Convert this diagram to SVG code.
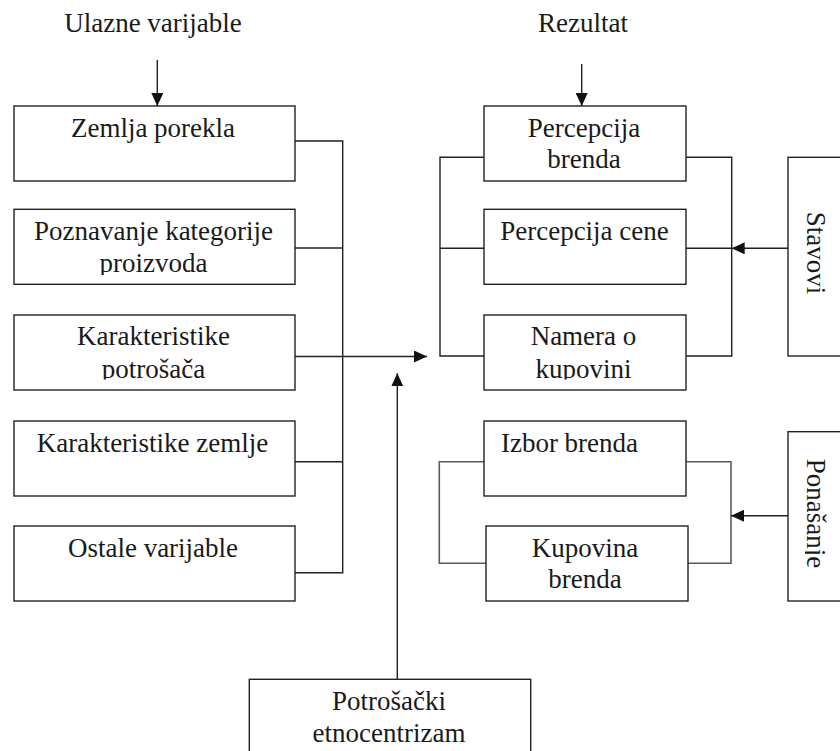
<svg xmlns="http://www.w3.org/2000/svg" width="840" height="751" viewBox="0 0 840 751">
<style>
  .box { fill: #ffffff; stroke: #222222; stroke-width: 1.4; }
  .t { font-family: 'Liberation Serif', Tinos, 'Times New Roman', Times, 'DejaVu Serif', serif; font-size: 27px; fill: #1a1a1a; text-anchor: middle; }
  .ln { fill: none; stroke: #222222; stroke-width: 1.4; }
  .gl { fill: none; stroke: #5a5a5a; stroke-width: 1.6; }
</style>
<defs>
  <marker id="ah" markerUnits="userSpaceOnUse" markerWidth="13" markerHeight="12" refX="13" refY="6" orient="auto">
    <path d="M0,0 L13,6 L0,12 Z" fill="#111111"/>
  </marker>
  <clipPath id="c2"><rect x="14" y="209" width="281" height="66"/></clipPath>
  <clipPath id="c3"><rect x="14" y="315" width="281" height="64.5"/></clipPath>
  <clipPath id="c8"><rect x="484" y="315" width="202" height="64.5"/></clipPath>
  <clipPath id="cp"><rect x="805" y="431" width="40" height="170"/></clipPath>
</defs>
<rect width="840" height="751" fill="#ffffff"/>

<g id="title-left"><text class="t" x="153" y="32">Ulazne varijable</text></g>
<g id="title-right"><text class="t" x="583" y="32">Rezultat</text></g>

<g id="connectors">
  <path class="ln" d="M157.3,60 V106" marker-end="url(#ah)"/>
  <path class="ln" d="M581.7,64 V106" marker-end="url(#ah)"/>
  <path class="ln" d="M295,141 H342.7 V572.7 H293"/>
  <path class="ln" d="M295,248 H342.7"/>
  <path class="ln" d="M295,461.7 H342.7"/>
  <path class="ln" d="M295,356.5 H427" marker-end="url(#ah)"/>
  <path class="ln" d="M397.3,679 V373.3" marker-end="url(#ah)"/>
  <path class="ln" d="M484,157.3 H440 V356 H484"/>
  <path class="ln" d="M484,248.3 H440"/>
  <path class="ln" d="M686,157.3 H731.7 V356 H686"/>
  <path class="ln" d="M686,248.3 H731.7"/>
  <path class="ln" d="M788,248.3 H731.7" marker-end="url(#ah)"/>
  <path class="gl" d="M484,461.7 H439.3 V563.3 H486"/>
  <path class="gl" d="M686,461.7 H731 V563.3 H688"/>
  <path class="ln" d="M788,515.7 H731" marker-end="url(#ah)"/>
</g>

<g id="zemlja-porekla">
  <rect class="box" x="14" y="106" width="281" height="75"/>
  <text class="t" x="153" y="136.7">Zemlja porekla</text>
</g>
<g id="poznavanje-kategorije">
  <rect class="box" x="14" y="209.3" width="281" height="75"/>
  <g clip-path="url(#c2)">
    <text class="t" x="153.5" y="240">Poznavanje kategorije</text>
    <text class="t" x="153.5" y="271.7">proizvoda</text>
  </g>
</g>
<g id="karakteristike-potrosaca">
  <rect class="box" x="14" y="315" width="281" height="75"/>
  <g clip-path="url(#c3)">
    <text class="t" x="153.5" y="345">Karakteristike</text>
    <text class="t" x="153.5" y="378">potrošača</text>
  </g>
</g>
<g id="karakteristike-zemlje">
  <rect class="box" x="14" y="421" width="281" height="75"/>
  <text class="t" x="152.5" y="451.7">Karakteristike zemlje</text>
</g>
<g id="ostale-varijable">
  <rect class="box" x="14" y="526" width="281" height="75"/>
  <text class="t" x="153" y="556.7">Ostale varijable</text>
</g>

<g id="percepcija-brenda">
  <rect class="box" x="484" y="106" width="202" height="75"/>
  <text class="t" x="584" y="136.7">Percepcija</text>
  <text class="t" x="584" y="168.3">brenda</text>
</g>
<g id="percepcija-cene">
  <rect class="box" x="484" y="209.3" width="202" height="75"/>
  <text class="t" x="584.5" y="240">Percepcija cene</text>
</g>
<g id="namera-o-kupovini">
  <rect class="box" x="484" y="315" width="202" height="75"/>
  <g clip-path="url(#c8)">
    <text class="t" x="583.5" y="345">Namera o</text>
    <text class="t" x="583.5" y="377.7">kupovini</text>
  </g>
</g>
<g id="izbor-brenda">
  <rect class="box" x="484" y="421" width="202" height="75"/>
  <text class="t" x="569.5" y="451.7">Izbor brenda</text>
</g>
<g id="kupovina-brenda">
  <rect class="box" x="486" y="526" width="202" height="75"/>
  <text class="t" x="585" y="556.7">Kupovina</text>
  <text class="t" x="585" y="588.3">brenda</text>
</g>

<g id="stavovi">
  <rect class="box" x="788" y="157.3" width="70" height="198.7"/>
  <text class="t" transform="translate(807,253) rotate(90)" x="0" y="0">Stavovi</text>
</g>
<g id="ponasanje">
  <rect class="box" x="788" y="431.7" width="70" height="169.3"/>
  <g clip-path="url(#cp)">
    <text class="t" transform="translate(807,513.5) rotate(90)" x="0" y="0">Ponašanje</text>
  </g>
</g>

<g id="potrosacki-etnocentrizam">
  <rect class="box" x="249.3" y="679.3" width="281.4" height="90"/>
  <text class="t" x="389" y="709.5">Potrošački</text>
  <text class="t" x="389" y="741.5">etnocentrizam</text>
</g>
</svg>
